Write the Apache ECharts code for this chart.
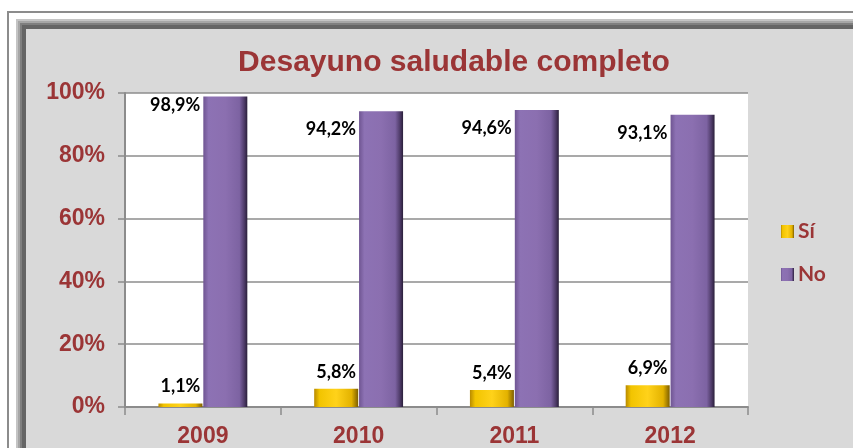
<!DOCTYPE html>
<html>
<head>
<meta charset="utf-8">
<style>
  html, body { margin: 0; padding: 0; background: #ffffff; overflow: hidden; }
  #chart { width: 853px; height: 448px; }
</style>
<script src="https://cdn.jsdelivr.net/npm/echarts@6/dist/echarts.min.js"></script>
</head>
<body>
<div id="chart"></div>
<script>
// Breakfast survey results by year (share of respondents, %)
var years = ['2009', '2010', '2011', '2012'];
var siValues = [1.1, 5.8, 5.4, 6.9];
var noValues = [98.9, 94.2, 94.6, 93.1];
var seriesNames = ['Sí', 'No'];
var yTicks = [0, 20, 40, 60, 80, 100];

// Vertical drop of each "No" label below its bar top (px)
var noLabelDrop = [0, 9, 9, 10];

var darkRed = '#9b3536';

function fmt(v) {
  return v.toFixed(1).replace('.', ',') + '%';
}

function bevel(stops) {
  return new echarts.graphic.LinearGradient(0, 0, 1, 0, stops);
}

var goldFill = bevel([
  { offset: 0, color: '#b88a00' },
  { offset: 0.12, color: '#f2c400' },
  { offset: 0.5, color: '#ffd21a' },
  { offset: 0.85, color: '#e3b200' },
  { offset: 1, color: '#7d5e00' }
]);
var purpleFill = bevel([
  { offset: 0, color: '#6f5592' },
  { offset: 0.12, color: '#8d72b4' },
  { offset: 0.5, color: '#8b6fb0' },
  { offset: 0.82, color: '#7d63a2' },
  { offset: 0.93, color: '#4e3b68' },
  { offset: 1, color: '#2a1f3a' }
]);

var chart = echarts.init(document.getElementById('chart'), null, { renderer: 'canvas' });

var option = {
  animation: false,
  backgroundColor: '#ffffff',
  graphic: [
    { type: 'rect', z: -10, silent: true,
      shape: { x: 8, y: 12, width: 900, height: 500 },
      style: { fill: '#ffffff', stroke: '#8c8c8c', lineWidth: 2 } },
    { type: 'rect', z: -9, silent: true,
      shape: { x: 16, y: 19, width: 900, height: 500 },
      style: { fill: '#c4c4c4' } },
    { type: 'rect', z: -9, silent: true,
      shape: { x: 18, y: 21, width: 900, height: 500 },
      style: { fill: '#a6a6a6' } },
    { type: 'rect', z: -9, silent: true,
      shape: { x: 20, y: 23, width: 900, height: 500 },
      style: { fill: '#7f7f7f' } },
    { type: 'rect', z: -9, silent: true,
      shape: { x: 22, y: 25, width: 900, height: 500 },
      style: { fill: '#656565' } },
    { type: 'rect', z: -8, silent: true,
      shape: { x: 26, y: 29, width: 900, height: 500 },
      style: { fill: '#d9d9d9' } }
  ],
  title: {
    text: 'Desayuno saludable completo',
    left: 449,
    textAlign: 'center',
    top: 43,
    textStyle: {
      fontFamily: '"Liberation Sans Narrow", sans-serif',
      fontWeight: 'bold',
      fontSize: 30,
      color: darkRed
    }
  },
  legend: {
    orient: 'vertical',
    left: 781,
    top: 221,
    padding: 0,
    itemWidth: 13,
    itemHeight: 13,
    itemGap: 22,
    icon: 'rect',
    data: seriesNames,
    textStyle: {
      fontFamily: 'Lato, sans-serif',
      fontWeight: 'bold',
      fontSize: 21,
      color: darkRed,
      padding: [0, 0, 0, -1]
    }
  },
  grid: {
    left: 125,
    right: 105,
    top: 93,
    bottom: 36,
    show: true,
    backgroundColor: '#ffffff',
    borderWidth: 0
  },
  xAxis: {
    type: 'category',
    data: years,
    axisLine: { lineStyle: { color: '#8c8c8c', width: 2 } },
    axisTick: { show: true, length: 8, lineStyle: { color: '#8c8c8c', width: 1.5 } },
    axisLabel: {
      margin: 18,
      fontFamily: '"Liberation Sans Narrow", sans-serif',
      fontWeight: 'bold',
      fontSize: 23,
      color: darkRed
    }
  },
  yAxis: {
    type: 'value',
    min: yTicks[0],
    max: yTicks[yTicks.length - 1],
    interval: 20,
    axisLine: { show: true, lineStyle: { color: '#8c8c8c', width: 2 } },
    axisTick: { show: true, length: 7, lineStyle: { color: '#8c8c8c', width: 1.5 } },
    splitLine: { lineStyle: { color: '#8c8c8c', width: 1.5 } },
    axisLabel: {
      margin: 20,
      formatter: '{value}%',
      fontFamily: '"Liberation Sans Narrow", sans-serif',
      fontWeight: 'bold',
      fontSize: 23,
      color: darkRed
    }
  },
  series: [
    {
      name: seriesNames[0],
      type: 'bar',
      barWidth: 44,
      barGap: '2%',
      data: siValues,
      itemStyle: { color: goldFill },
      label: {
        show: true,
        position: 'top',
        distance: 8,
        formatter: function (p) { return fmt(p.value); },
        fontFamily: 'Lato, sans-serif',
        fontWeight: 'bold',
        fontSize: 18,
        color: '#000000'
      }
    },
    {
      name: seriesNames[1],
      type: 'bar',
      barWidth: 44,
      barGap: '2%',
      data: noValues.map(function (v, i) {
        return {
          value: v,
          label: { position: [-3, noLabelDrop[i]] }
        };
      }),
      itemStyle: { color: purpleFill },
      label: {
        show: true,
        align: 'right',
        verticalAlign: 'top',
        formatter: function (p) { return fmt(p.value); },
        fontFamily: 'Lato, sans-serif',
        fontWeight: 'bold',
        fontSize: 18,
        color: '#000000'
      }
    }
  ]
};

chart.setOption(option);
</script>
</body>
</html>
